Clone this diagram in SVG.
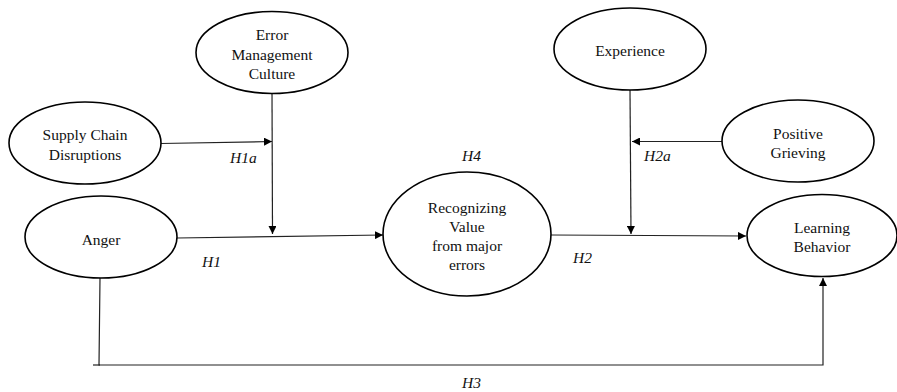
<svg xmlns="http://www.w3.org/2000/svg" width="897" height="392" viewBox="0 0 897 392">
<defs>
<style>
.node ellipse{fill:#fff;stroke:#000;stroke-width:1.6}
.node text{font-family:"Liberation Serif","Times New Roman",serif;font-size:15.5px;fill:#111;text-anchor:middle}
.conn line,.conn polyline{stroke:#222;stroke-width:1.2;fill:none}
.lbl{font-family:"Liberation Serif","Times New Roman",serif;font-size:15.5px;font-style:italic;fill:#111}
</style>
<marker id="ah" viewBox="0 0 10 10" refX="10" refY="5" markerWidth="8" markerHeight="8" markerUnits="userSpaceOnUse" orient="auto">
<path d="M0,0 L10,5 L0,10 z" fill="#000"/>
</marker>
</defs>
<rect width="897" height="392" fill="#fff"/>
<g class="conn" id="connectors">
<line x1="161" y1="143.5" x2="272" y2="141.5" marker-end="url(#ah)"/>
<line x1="272" y1="93" x2="272.5" y2="234" marker-end="url(#ah)"/>
<line x1="177" y1="238" x2="383" y2="235" marker-end="url(#ah)"/>
<line x1="551" y1="235" x2="746" y2="236" marker-end="url(#ah)"/>
<line x1="630" y1="90" x2="631" y2="234" marker-end="url(#ah)"/>
<line x1="723" y1="141.5" x2="632" y2="141.5" marker-end="url(#ah)"/>
<polyline points="100,278 99,365 823,365 823,278" marker-end="url(#ah)"/>
<line x1="93" y1="365" x2="100" y2="365"/>
</g>
<g class="node" id="error-management-culture">
<ellipse cx="272" cy="52.5" rx="76" ry="41"/>
<text x="272" y="40">Error</text>
<text x="272" y="59.5">Management</text>
<text x="272" y="78.5">Culture</text>
</g>
<g class="node" id="supply-chain-disruptions">
<ellipse cx="85" cy="143" rx="76" ry="41"/>
<text x="85" y="140">Supply Chain</text>
<text x="85" y="159.5">Disruptions</text>
</g>
<g class="node" id="anger">
<ellipse cx="101" cy="237" rx="76" ry="41"/>
<text x="101" y="244.5">Anger</text>
</g>
<g class="node" id="recognizing-value">
<ellipse cx="467" cy="234" rx="84" ry="62"/>
<text x="467" y="212.5">Recognizing</text>
<text x="467" y="231.5">Value</text>
<text x="467" y="251">from major</text>
<text x="467" y="270">errors</text>
</g>
<g class="node" id="experience">
<ellipse cx="630" cy="49" rx="76" ry="41"/>
<text x="630" y="55.5">Experience</text>
</g>
<g class="node" id="positive-grieving">
<ellipse cx="798" cy="141" rx="76" ry="41"/>
<text x="798" y="138.5">Positive</text>
<text x="798" y="157.5">Grieving</text>
</g>
<g class="node" id="learning-behavior">
<ellipse cx="822" cy="235.5" rx="75" ry="41"/>
<text x="822" y="232.5">Learning</text>
<text x="822" y="251.5">Behavior</text>
</g>
<g id="labels">
<text class="lbl" x="230" y="162.5">H1a</text>
<text class="lbl" x="202" y="267">H1</text>
<text class="lbl" x="462" y="160.5">H4</text>
<text class="lbl" x="644" y="160.5">H2a</text>
<text class="lbl" x="573" y="263">H2</text>
<text class="lbl" x="462" y="388">H3</text>
</g>
</svg>
